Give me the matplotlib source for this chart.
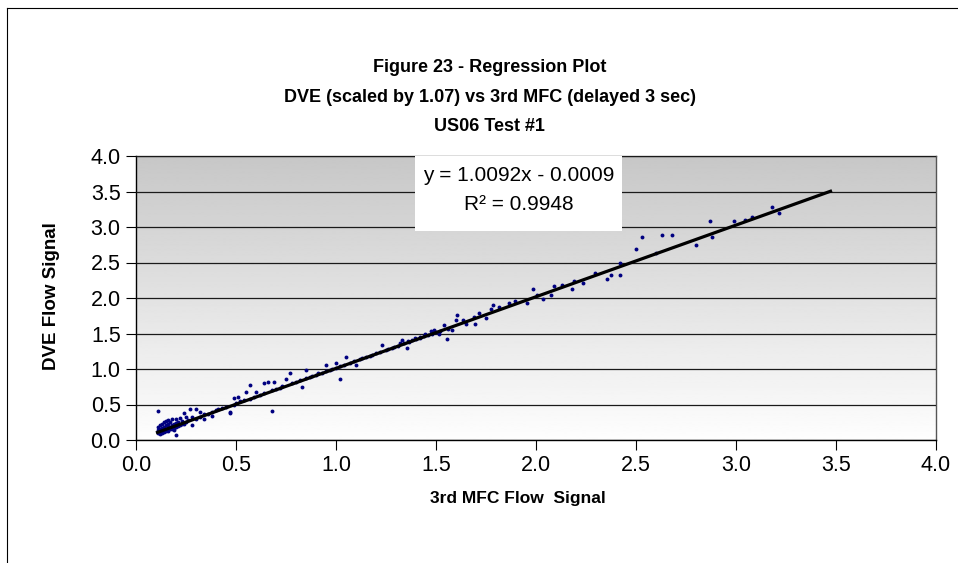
import numpy as np
import matplotlib
matplotlib.use("Agg")
from matplotlib import pyplot as plt
from matplotlib.patches import Rectangle

plt.rcParams['font.family'] = ['Liberation Sans', 'DejaVu Sans']

# scatter points (3rd MFC vs DVE)
mfc = [0.11, 0.11, 0.11, 0.12, 0.12, 0.12, 0.12, 0.13, 0.13, 0.13, 0.13, 0.14, 0.14, 0.14, 0.14,
       0.15, 0.15, 0.15, 0.15, 0.16, 0.16, 0.16, 0.16, 0.17, 0.17, 0.17, 0.18, 0.18, 0.18, 0.19,
       0.19, 0.19, 0.20, 0.20, 0.20, 0.21, 0.21, 0.22, 0.22, 0.23, 0.23, 0.24, 0.24, 0.25, 0.25,
       0.26, 0.27, 0.11, 0.20,
       0.28, 0.28, 0.30, 0.30, 0.32, 0.32, 0.34, 0.34, 0.36, 0.38, 0.38, 0.40, 0.41, 0.43, 0.45,
       0.47, 0.47, 0.49, 0.49, 0.50, 0.51, 0.52, 0.54, 0.55, 0.57, 0.57, 0.59, 0.60, 0.62, 0.64, 0.64,
       0.66, 0.68, 0.68, 0.70, 0.72, 0.73, 0.75, 0.77, 0.78, 0.80, 0.82, 0.83, 0.85, 0.85, 0.87,
       0.88, 0.90, 0.91, 0.93, 0.95, 0.95, 0.97, 0.98, 1.00, 1.00, 1.02, 1.02, 1.04, 1.05, 1.07,
       1.09, 1.10, 1.12, 1.13, 1.15, 1.17, 1.18, 1.20, 1.22, 1.23, 1.25, 1.26, 1.28, 1.29, 1.31,
       1.32, 1.34, 0.69,
       1.36, 1.38, 1.40, 1.42, 1.44, 1.46, 1.48, 1.50, 1.52, 1.56,
       1.330, 1.354, 1.366, 1.393, 1.420, 1.446, 1.473, 1.491, 1.514, 1.539, 1.554, 1.580, 1.598,
       1.607, 1.634, 1.652, 1.688, 1.693, 1.714, 1.750, 1.777, 1.786, 1.816, 1.866, 1.893, 1.955,
       1.986, 2.005, 2.036, 2.077, 2.089, 2.129, 2.179, 2.188, 2.236, 2.296, 2.357, 2.375, 2.418,
       2.420, 2.498, 2.529, 2.598, 2.629, 2.679, 2.800, 2.870, 2.880, 2.991, 3.045, 3.080, 3.179, 3.214]
dve = [0.10, 0.14, 0.18, 0.09, 0.12, 0.16, 0.21, 0.10, 0.13, 0.17, 0.23, 0.11, 0.15, 0.19, 0.25,
       0.12, 0.16, 0.21, 0.27, 0.13, 0.18, 0.23, 0.28, 0.15, 0.19, 0.25, 0.16, 0.21, 0.29, 0.17,
       0.22, 0.14, 0.18, 0.24, 0.30, 0.20, 0.26, 0.21, 0.31, 0.22, 0.27, 0.23, 0.38, 0.26, 0.33,
       0.28, 0.43, 0.41, 0.07,
       0.21, 0.32, 0.43, 0.30, 0.40, 0.33, 0.36, 0.29, 0.37, 0.39, 0.34, 0.42, 0.44, 0.45, 0.46,
       0.40, 0.38, 0.50, 0.59, 0.52, 0.61, 0.55, 0.56, 0.67, 0.58, 0.78, 0.60, 0.68, 0.63, 0.80, 0.66,
       0.82, 0.70, 0.41, 0.72, 0.73, 0.76, 0.86, 0.95, 0.80, 0.82, 0.84, 0.75, 0.87, 0.98, 0.89,
       0.90, 0.92, 0.94, 0.95, 0.97, 1.06, 0.99, 1.00, 1.02, 1.09, 1.04, 0.86, 1.06, 1.17, 1.08,
       1.11, 1.06, 1.14, 1.15, 1.17, 1.19, 1.20, 1.22, 1.24, 1.34, 1.27, 1.28, 1.30, 1.31, 1.33,
       1.36, 1.37, 0.81,
       1.39, 1.41, 1.42, 1.44, 1.47, 1.48, 1.50, 1.52, 1.54, 1.57,
       1.406, 1.289, 1.383, 1.430, 1.453, 1.486, 1.538, 1.556, 1.500, 1.617, 1.420, 1.547, 1.688,
       1.767, 1.688, 1.627, 1.735, 1.627, 1.791, 1.720, 1.852, 1.908, 1.875, 1.932, 1.960, 1.936,
       2.133, 2.049, 1.988, 2.049, 2.166, 2.189, 2.133, 2.241, 2.218, 2.358, 2.269, 2.330, 2.330,
       2.494, 2.691, 2.860, 2.640, 2.893, 2.893, 2.748, 3.090, 2.860, 3.090, 3.095, 3.142, 3.282, 3.203]

slope = 1.0092
intercept = -0.0009
r2 = 0.9948
trend_x = np.array([0.10, 3.48])

fig = plt.figure(figsize=(9.58, 5.63), dpi=100)
ax = fig.add_axes([136/958, 1 - 440/563, 800/958, 284/563])

# grey (top) to white (bottom) plot area fill
grad = np.linspace(0.78, 0.995, 256)[:, None]
ax.imshow(grad, cmap='gray', vmin=0, vmax=1, extent=[0, 4, 0, 4], aspect='auto',
          origin='upper', zorder=0, interpolation='bilinear')

ax.set_xlim(0, 4)
ax.set_ylim(0, 4)
ticks = np.arange(0, 4.01, 0.5)
ax.set_xticks(ticks)
ax.set_yticks(ticks)
ax.set_xticklabels(['%.1f' % t for t in ticks])
ax.set_yticklabels(['%.1f' % t for t in ticks])
ax.yaxis.grid(True, color='#1a1a1a', lw=0.9, zorder=1)
ax.set_axisbelow(False)
ax.tick_params(labelsize=15.5, length=7, width=0.8, pad=4, direction='out')
for s in ['top', 'right']:
    ax.spines[s].set_color('#555555')
    ax.spines[s].set_linewidth(1.0)
for s in ['left', 'bottom']:
    ax.spines[s].set_color('black')
    ax.spines[s].set_linewidth(1.0)

ax.plot(mfc, dve, 'o', ms=2.8, color='#000080', mec='none', zorder=3)
ax.plot(trend_x, slope*trend_x + intercept, color='black', lw=2.3, zorder=4,
        solid_capstyle='butt')

# equation box
ax.add_patch(Rectangle((1.394, 2.945), 1.037, 1.055, fc='white', ec='none', zorder=5))
ax.text(1.912, 3.73, 'y = %.4fx - %.4f' % (slope, -intercept), ha='center', va='center',
        fontsize=15, zorder=6)
ax.text(1.912, 3.31, 'R² = %.4f' % r2, ha='center', va='center', fontsize=15, zorder=6)

ax.set_xlabel('3rd MFC Flow  Signal', fontsize=12.5, fontweight='bold')
ax.xaxis.set_label_coords((518 - 136)/800, -(491 - 440)/284, transform=ax.transAxes)
ax.set_ylabel('DVE Flow Signal', fontsize=13.5, fontweight='bold')
ax.yaxis.set_label_coords(-(136 - 60)/800, (440 - 296)/284, transform=ax.transAxes)

fig.text(0.511, 1 - 67/563, 'Figure 23 - Regression Plot', ha='center', va='center',
         fontsize=13, fontweight='bold')
fig.text(0.511, 1 - 97/563, 'DVE (scaled by 1.07) vs 3rd MFC (delayed 3 sec)', ha='center',
         va='center', fontsize=13, fontweight='bold')
fig.text(0.511, 1 - 127/563, 'US06 Test #1', ha='center', va='center',
         fontsize=13, fontweight='bold')

# chart border (right and bottom edges fall outside the picture)
fig.add_artist(plt.Line2D([7/958, 7/958], [0, 1 - 8/563], color='black', lw=0.8))
fig.add_artist(plt.Line2D([7/958, 1], [1 - 8/563, 1 - 8/563], color='black', lw=0.8))

fig.savefig('out.png', dpi=100)
